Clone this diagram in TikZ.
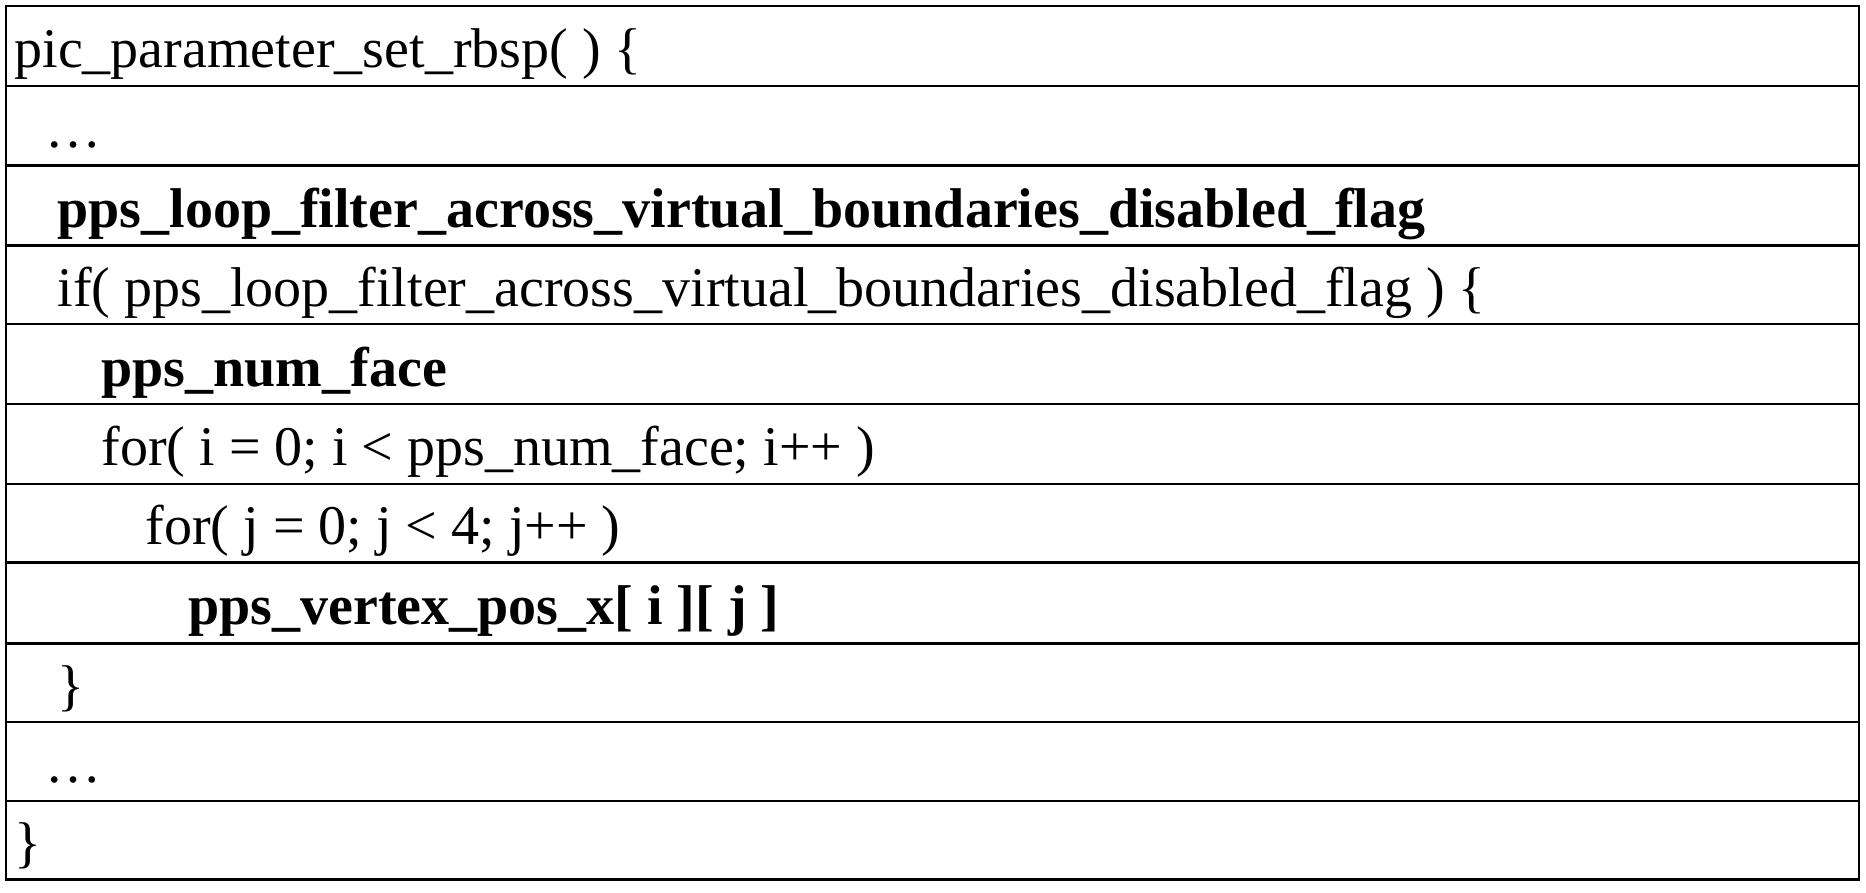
\documentclass[tikz,border=0pt]{standalone}
\usepackage{fontspec}
\setmainfont{Liberation Serif}
\begin{document}
\begin{tikzpicture}[x=1pt,y=-1pt,
  txt/.style={anchor=base west,inner sep=0pt,font=\fontsize{47}{50}\selectfont},
  btxt/.style={txt,font=\fontsize{47}{50}\selectfont\bfseries}]
\useasboundingbox (0,0) rectangle (1566,749);
\draw[line width=2pt] (5,5) rectangle (1560,738);
\foreach \y in {72,139,206,272,339,406,472,540,606,672} \draw[line width=2pt] (5,\y) -- (1560,\y);
\node[txt]  (r1)  at (12,57)  {pic\_parameter\_set\_rbsp( ) \{};
\node[txt]  (r2)  at (38,124) {…};
\node[btxt] (r3)  at (48,191) {pps\_loop\_filter\_across\_virtual\_boundaries\_disabled\_flag};
\node[txt]  (r4)  at (48,257) {if( pps\_loop\_filter\_across\_virtual\_boundaries\_disabled\_flag ) \{};
\node[btxt] (r5)  at (85,324) {pps\_num\_face};
\node[txt]  (r6)  at (85,391) {for( i = 0; i < pps\_num\_face; i++ )};
\node[txt]  (r7)  at (122,457){for( j = 0; j < 4; j++ )};
\node[btxt] (r8)  at (158,524){pps\_vertex\_pos\_x[ i ][ j ]};
\node[txt]  (r9)  at (48,591) {\}};
\node[txt]  (r10) at (38,657) {…};
\node[txt]  (r11) at (12,723) {\}};
\end{tikzpicture}
\end{document}
